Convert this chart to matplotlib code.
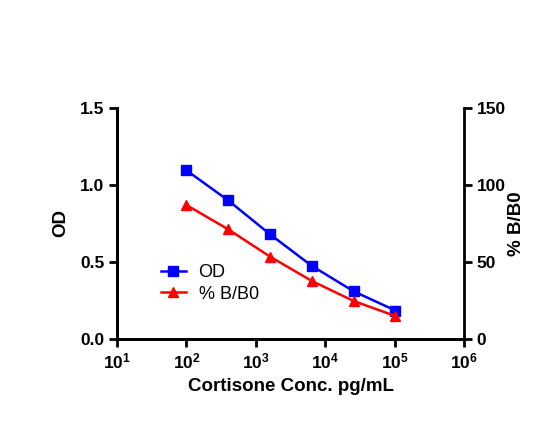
import matplotlib
matplotlib.use("Agg")
import matplotlib.pyplot as plt
from matplotlib.ticker import FixedLocator, NullLocator

plt.rcParams['font.family'] = ['Liberation Sans', 'DejaVu Sans']
plt.rcParams['mathtext.fontset'] = 'custom'
plt.rcParams['mathtext.rm'] = 'Liberation Sans'
plt.rcParams['mathtext.bf'] = 'Liberation Sans:bold'

# data
conc = [100, 400, 1600, 6400, 25600, 102400]
od = [1.095, 0.90, 0.68, 0.475, 0.31, 0.185]
bb0 = [87.0, 71.2, 53.5, 37.7, 24.7, 14.9]

xticks = [1e1, 1e2, 1e3, 1e4, 1e5, 1e6]
xticklabels = [r'$\mathbf{10^{%d}}$' % i for i in range(1, 7)]

fig = plt.figure(figsize=(5.53, 4.47), dpi=100)
ax = fig.add_axes([0.2116, 0.2416, 0.6275, 0.5168])
ax2 = ax.twinx()

l1, = ax.plot(conc, od, color='#0000ff', marker='s', markersize=7, lw=1.8, label='OD')
l2, = ax2.plot(conc, bb0, color='#ff0000', marker='^', markersize=7, lw=1.8, label='% B/B0')

ax.set_xscale('log')
ax.set_xlim(1e1, 1e6)
ax.set_ylim(0, 1.5)
ax2.set_ylim(0, 150)
ax.xaxis.set_major_locator(FixedLocator(xticks))
ax.xaxis.set_minor_locator(NullLocator())
ax.set_xticklabels(xticklabels)
ax.set_yticks([0, 0.5, 1.0, 1.5])
ax.set_yticklabels(['0.0', '0.5', '1.0', '1.5'])
ax2.set_yticks([0, 50, 100, 150])

for a in (ax, ax2):
    a.spines['top'].set_visible(False)
    for s in a.spines.values():
        s.set_linewidth(2)
    a.tick_params(width=2, length=6, labelsize=12.5, pad=3)
    for lab in a.get_yticklabels():
        lab.set_fontweight('bold')
ax.spines['right'].set_visible(False)

ax.set_xlabel('Cortisone Conc. pg/mL', fontsize=13.5, fontweight='bold', labelpad=5)
ax.set_ylabel('OD', fontsize=13.5, fontweight='bold', labelpad=8)
ax2.set_ylabel('% B/B0', fontsize=13.5, fontweight='bold', labelpad=2)

ax.legend([l1, l2], ['OD', '% B/B0'], loc='center left', bbox_to_anchor=(0.105, 0.24),
          frameon=False, fontsize=13, handlelength=1.4, handletextpad=0.7,
          borderaxespad=0, labelspacing=0.25)

fig.savefig('out.png', dpi=100)
